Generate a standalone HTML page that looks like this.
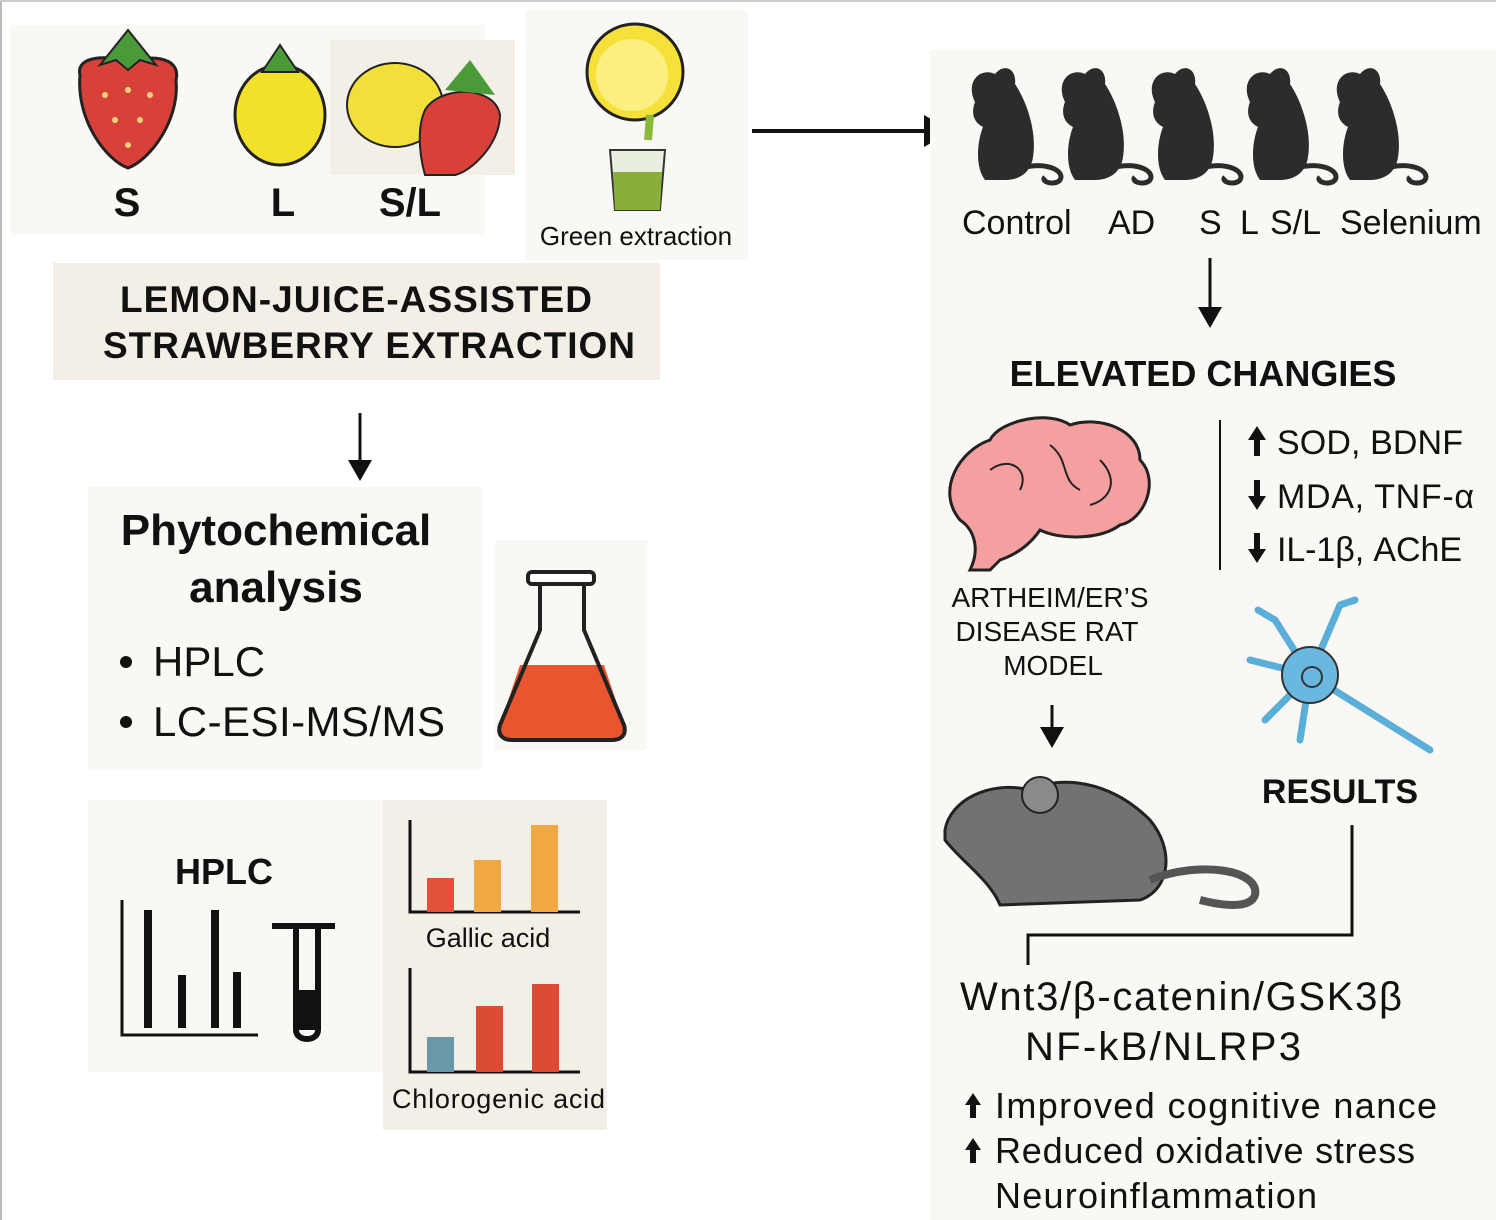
<!DOCTYPE html>
<html><head><meta charset="utf-8"><style>
html,body{margin:0;padding:0;background:#fff;}
svg{display:block;font-family:"Liberation Sans",sans-serif;}
</style></head><body>
<svg width="1496" height="1220" viewBox="0 0 1496 1220" xmlns="http://www.w3.org/2000/svg">
<defs>
<marker id="ah" markerWidth="8" markerHeight="8" refX="6" refY="4" orient="auto" markerUnits="strokeWidth"><path d="M0,0 L7,4 L0,8 z" fill="#111"/></marker>
<g id="rat">
<path d="M10,40 C0,20 15,5 30,12 C40,0 52,8 50,22 C62,40 72,70 68,95 C66,110 55,118 40,118 L20,118 C10,105 12,80 18,65 C8,60 6,50 10,40 Z" fill="#2c2c2c"/>
<path d="M60,105 C85,100 100,110 95,118 C90,124 75,120 80,115" fill="none" stroke="#2c2c2c" stroke-width="5"/>
</g>
</defs>
<rect x="0" y="0" width="1496" height="1220" fill="#fff"/>
<line x1="1" y1="0" x2="1" y2="1220" stroke="#bbb" stroke-width="2"/>
<line x1="0" y1="1" x2="1496" y2="1" stroke="#ccc" stroke-width="2"/>

<rect x="10" y="25" width="475" height="210" fill="#faf8f4"/>
<rect x="330" y="40" width="185" height="135" fill="#f3eee6"/>
<path d="M80,75 C75,55 110,55 128,62 C146,55 182,55 176,80 C180,120 150,160 128,168 C106,160 76,120 80,75 Z" fill="#d8403a" stroke="#222" stroke-width="3"/>
<path d="M100,65 L128,30 L156,65 L140,60 L128,70 L116,60 Z" fill="#4a9a3a" stroke="#222" stroke-width="2"/>
<g fill="#f3d27a"><circle cx="105" cy="95" r="3"/><circle cx="128" cy="90" r="3"/><circle cx="150" cy="95" r="3"/><circle cx="115" cy="120" r="3"/><circle cx="140" cy="120" r="3"/><circle cx="128" cy="145" r="3"/></g>
<ellipse cx="280" cy="115" rx="45" ry="50" fill="#f2e12a" stroke="#222" stroke-width="3"/>
<path d="M262,72 L280,45 L298,72 Z" fill="#4a9a3a" stroke="#222" stroke-width="2"/>
<ellipse cx="395" cy="105" rx="48" ry="42" fill="#f2df3a" stroke="#222" stroke-width="2"/>
<path d="M425,110 C440,85 495,85 500,115 C500,145 470,172 455,175 L425,175 C418,150 418,125 425,110 Z" fill="#d8403a" stroke="#222" stroke-width="2"/>
<path d="M445,90 L470,60 L495,95 Z" fill="#4a9a3a"/>
<text x="127" y="216" font-size="40" font-weight="bold" text-anchor="middle" fill="#111">S</text>
<text x="283" y="216" font-size="40" font-weight="bold" text-anchor="middle" fill="#111">L</text>
<text x="410" y="216" font-size="40" font-weight="bold" text-anchor="middle" fill="#111">S/L</text>
<rect x="527" y="137" width="6" height="6" fill="#111"/>

<rect x="525" y="10" width="223" height="250" fill="#faf8f4"/>
<circle cx="635" cy="72" r="48" fill="#f5e13a" stroke="#222" stroke-width="3"/>
<circle cx="632" cy="75" r="36" fill="#fbef80"/>
<path d="M650,115 L648,140" stroke="#8ab83a" stroke-width="8"/>
<path d="M610,150 L665,150 L660,210 L615,210 Z" fill="#e8efe0" stroke="#333" stroke-width="2"/>
<path d="M613,172 L662,172 L660,210 L615,210 Z" fill="#8aae3a"/>
<text x="636" y="245" font-size="26" text-anchor="middle" fill="#111">Green extraction</text>

<line x1="752" y1="131" x2="948" y2="131" stroke="#111" stroke-width="4" marker-end="url(#ah)"/>

<rect x="930" y="50" width="566" height="1170" fill="#faf8f4"/>
<use href="#rat" x="965" y="62"/><use href="#rat" x="1055" y="62"/><use href="#rat" x="1145" y="62"/><use href="#rat" x="1240" y="62"/><use href="#rat" x="1330" y="62"/>
<g font-size="34" fill="#111">
<text x="962" y="234">Control</text><text x="1108" y="234">AD</text><text x="1199" y="234">S</text><text x="1240" y="234">L</text><text x="1270" y="234">S/L</text><text x="1340" y="234">Selenium</text>
</g>
<line x1="1210" y1="258" x2="1210" y2="325" stroke="#111" stroke-width="3" marker-end="url(#ah)"/>
<text x="1203" y="386" font-size="36" font-weight="bold" text-anchor="middle" fill="#111">ELEVATED CHANGIES</text>

<path d="M960,520 C935,490 960,450 990,440 C1000,420 1050,410 1070,425 C1100,415 1140,430 1140,460 C1160,480 1145,520 1120,525 C1100,540 1060,540 1040,530 C1030,545 1015,555 1000,560 L990,570 L970,570 C980,550 975,530 960,520 Z" fill="#f4a0a0" stroke="#222" stroke-width="3"/>
<path d="M990,470 C1010,455 1030,470 1020,490 M1050,445 C1070,460 1060,480 1080,490 M1100,460 C1120,480 1110,500 1090,505" fill="none" stroke="#222" stroke-width="2"/>
<line x1="1220" y1="420" x2="1220" y2="570" stroke="#111" stroke-width="2"/>
<g fill="#111">
<path d="M1257,426 L1266,440 L1260,440 L1260,456 L1254,456 L1254,440 L1248,440 Z"/>
<path d="M1257,510 L1266,496 L1260,496 L1260,480 L1254,480 L1254,496 L1248,496 Z"/>
<path d="M1257,563 L1266,549 L1260,549 L1260,533 L1254,533 L1254,549 L1248,549 Z"/>
</g>
<g font-size="34" fill="#111">
<text x="1277" y="454" textLength="186">SOD, BDNF</text><text x="1277" y="508" textLength="197">MDA, TNF-α</text><text x="1277" y="561" textLength="185">IL-1β, AChE</text>
</g>
<g font-size="28" fill="#111" text-anchor="middle">
<text x="1050" y="607">ARTHEIM/ER’S</text><text x="1047" y="641">DISEASE RAT</text><text x="1053" y="675">MODEL</text>
</g>
<line x1="1052" y1="705" x2="1052" y2="745" stroke="#111" stroke-width="3" marker-end="url(#ah)"/>
<g stroke="#5aaed8" stroke-width="7" fill="none" stroke-linecap="round">
<path d="M1310,675 L1275,620 M1310,675 L1340,605 M1310,675 L1250,660 M1310,675 L1265,720 M1310,675 L1300,740 M1310,675 L1430,750 M1275,620 L1258,610 M1340,605 L1355,600"/>
</g>
<circle cx="1310" cy="675" r="28" fill="#6ab8e0" stroke="#333" stroke-width="2"/>
<circle cx="1312" cy="677" r="10" fill="none" stroke="#333" stroke-width="2"/>
<text x="1340" y="803" font-size="34" font-weight="bold" text-anchor="middle" fill="#111">RESULTS</text>
<path d="M945,830 C950,800 990,780 1030,790 C1060,775 1110,780 1150,820 C1175,850 1170,890 1140,900 L1000,905 C990,880 960,860 945,840 Z" fill="#727272" stroke="#222" stroke-width="3"/>
<circle cx="1040" cy="795" r="18" fill="#8a8a8a" stroke="#222" stroke-width="2"/>
<path d="M1150,880 C1200,860 1260,870 1255,895 C1250,910 1220,905 1200,900" fill="none" stroke="#555" stroke-width="8"/>
<path d="M1352,825 L1352,935 L1028,935 L1028,965" fill="none" stroke="#111" stroke-width="3"/>
<text x="960" y="1010" font-size="40" fill="#111" textLength="442">Wnt3/β-catenin/GSK3β</text>
<text x="1025" y="1060" font-size="40" fill="#111" textLength="276">NF-kB/NLRP3</text>
<g fill="#111">
<path d="M973,1093 L981,1105 L976,1105 L976,1118 L970,1118 L970,1105 L965,1105 Z"/>
<path d="M973,1138 L981,1150 L976,1150 L976,1163 L970,1163 L970,1150 L965,1150 Z"/>
</g>
<g font-size="36" fill="#111">
<text x="995" y="1118" textLength="442">Improved cognitive nance</text>
<text x="995" y="1163" textLength="420">Reduced oxidative stress</text>
<text x="995" y="1208" textLength="322">Neuroinflammation</text>
</g>

<rect x="53" y="263" width="607" height="117" fill="#f3eee6"/>
<text x="120" y="312" font-size="37" font-weight="bold" fill="#111" textLength="472">LEMON-JUICE-ASSISTED</text>
<text x="103" y="358" font-size="37" font-weight="bold" fill="#111" textLength="532">STRAWBERRY EXTRACTION</text>
<line x1="360" y1="413" x2="360" y2="478" stroke="#111" stroke-width="3" marker-end="url(#ah)"/>

<rect x="88" y="487" width="394" height="283" fill="#faf8f4"/>
<text x="276" y="545" font-size="44" font-weight="bold" text-anchor="middle" fill="#111">Phytochemical</text>
<text x="276" y="602" font-size="44" font-weight="bold" text-anchor="middle" fill="#111">analysis</text>
<circle cx="126" cy="662" r="6" fill="#111"/><circle cx="126" cy="722" r="6" fill="#111"/>
<text x="153" y="676" font-size="42" fill="#111">HPLC</text>
<text x="153" y="736" font-size="42" fill="#111" textLength="292">LC-ESI-MS/MS</text>

<rect x="495" y="540" width="152" height="210" fill="#faf8f4"/>
<path d="M520,665 L604,665 L624,725 C627,735 621,740 612,740 L512,740 C503,740 497,735 500,725 Z" fill="#e8552e"/>
<path d="M540,582 L540,630 L500,725 C497,735 503,740 512,740 L612,740 C621,740 627,735 624,725 L584,630 L584,582" fill="none" stroke="#222" stroke-width="4"/>
<rect x="528" y="572" width="66" height="12" rx="4" fill="#fff" stroke="#222" stroke-width="4"/>

<rect x="88" y="800" width="295" height="272" fill="#faf8f4"/>
<text x="224" y="884" font-size="36" font-weight="bold" text-anchor="middle" fill="#111">HPLC</text>
<path d="M122,900 L122,1035 L258,1035" fill="none" stroke="#111" stroke-width="3"/>
<g stroke="#111" stroke-width="8"><line x1="148" y1="910" x2="148" y2="1028"/><line x1="182" y1="975" x2="182" y2="1028"/><line x1="215" y1="910" x2="215" y2="1028"/><line x1="237" y1="972" x2="237" y2="1028"/></g>
<path d="M272,926 L335,926 M296,926 L296,1030 C296,1042 318,1042 318,1030 L318,926" fill="none" stroke="#111" stroke-width="6"/>
<rect x="296" y="990" width="22" height="40" fill="#111"/>

<rect x="383" y="800" width="224" height="160" fill="#f3eee6"/>
<path d="M410,820 L410,912 L580,912" fill="none" stroke="#111" stroke-width="3"/>
<rect x="427" y="878" width="27" height="34" fill="#e0503a"/><rect x="474" y="860" width="27" height="52" fill="#f0a844"/><rect x="531" y="825" width="27" height="87" fill="#f0a844"/>
<text x="488" y="947" font-size="27" text-anchor="middle" fill="#111">Gallic acid</text>
<rect x="383" y="960" width="224" height="170" fill="#f3eee6"/>
<path d="M410,968 L410,1072 L580,1072" fill="none" stroke="#111" stroke-width="3"/>
<rect x="427" y="1037" width="27" height="35" fill="#6a98a8"/><rect x="476" y="1006" width="27" height="66" fill="#dd4a36"/><rect x="532" y="984" width="27" height="88" fill="#dd4a36"/>
<text x="392" y="1108" font-size="27" fill="#111" textLength="213">Chlorogenic acid</text>
</svg>
</body></html>
